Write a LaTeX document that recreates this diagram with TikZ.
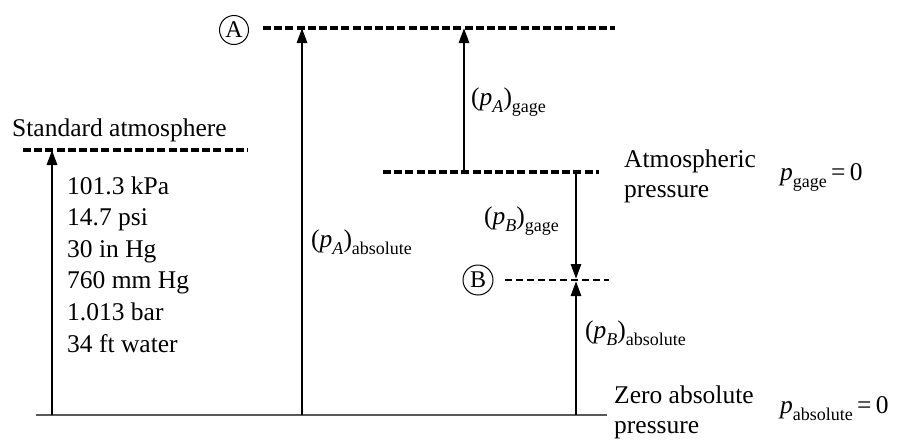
\documentclass[tikz,border=0pt]{standalone}
\usepackage{fontspec}
\setmainfont{Liberation Serif}
\usetikzlibrary{arrows.meta, positioning}
\newcommand{\subfont}{\fontsize{18}{18}\selectfont}
\newcommand{\plab}[2]{(\textit{p}\raisebox{-0.28em}{\subfont\textit{#1}})\raisebox{-0.28em}{\subfont #2}}

\begin{document}
\begin{tikzpicture}[
    x=1pt, y=-1pt,
    txt/.style={inner sep=0pt, anchor=base west, font=\fontsize{25.5}{30}\selectfont},
    lvl/.style={line width=3.2pt, dash pattern=on 8pt off 3.2pt},
    thinlvl/.style={line width=2.2pt, dash pattern=on 7pt off 4pt},
    arr/.style={-{Triangle[length=15pt,width=10pt]}, line width=2.8pt},
    pnt/.style={circle, draw, line width=1pt, minimum size=29pt, inner sep=0pt,
                font=\fontsize{24}{24}\selectfont},
]
    \useasboundingbox (0,0) rectangle (901,439);

    % pressure levels
    \coordinate (zeroL) at (36,415);  \coordinate (zeroR) at (607,415);
    \coordinate (stdL)  at (23,150);  \coordinate (stdR)  at (248,150);
    \coordinate (aL)    at (263,28);  \coordinate (aR)    at (615,28);
    \coordinate (atmL)  at (383,172); \coordinate (atmR)  at (599,172);
    \coordinate (bL)    at (505,280); \coordinate (bR)    at (609,280);

    \draw[black!65, line width=2pt] (zeroL) -- (zeroR);
    \draw[lvl] (stdL) -- (stdR);
    \draw[lvl] (aL) -- (aR);
    \draw[lvl] (atmL) -- (atmR);
    \draw[thinlvl] (bL) -- (bR);

    % arrow ends
    \coordinate (s0) at (52,415);  \coordinate (s1) at (52,150);
    \coordinate (a0) at (302,415); \coordinate (a1) at (302,28);
    \coordinate (g0) at (464,172); \coordinate (g1) at (464,28);
    \coordinate (h0) at (576,172); \coordinate (h1) at (576,279);
    \coordinate (b0) at (576,415); \coordinate (b1) at (576,281);

    \draw[arr] (s0) -- (s1);
    \draw[arr] (a0) -- (a1);
    \draw[arr] (g0) -- (g1);
    \draw[arr] (h0) -- (h1);
    \draw[arr] (b0) -- (b1);

    \node[pnt] (A) at (234,30) {A};
    \node[pnt, minimum size=30pt] (B) at (478,280) {B};

    \node[txt] (std) at (12,136) {Standard atmosphere};
    \foreach \v [count=\i] in {101.3 kPa, 14.7 psi, 30 in Hg, 760 mm Hg, 1.013 bar, 34 ft water}
        \node[txt] (v\i) at (67,{194+31.6*(\i-1)}) {\v};

    \node[txt] (pAabs) at (311,247) {\plab{A}{absolute}};
    \node[txt] (pAg)   at (471,105) {\plab{A}{gage}};
    \node[txt] (pBg)   at (484,224) {\plab{B}{gage}};
    \node[txt] (pBabs) at (585,338) {\plab{B}{absolute}};

    \node[txt] (atm1) at (624,167) {Atmospheric};
    \node[txt] (atm2) at (624,197) {pressure};
    \node[txt] (zero1) at (614,403) {Zero absolute};
    \node[txt] (zero2) at (614,433) {pressure};

    \node[txt] (pg0) at (780,180) {\textit{p}\raisebox{-0.28em}{\subfont gage}\,=\,0};
    \node[txt] (pa0) at (780,413) {\textit{p}\raisebox{-0.28em}{\subfont absolute}\,=\,0};
\end{tikzpicture}
\end{document}
